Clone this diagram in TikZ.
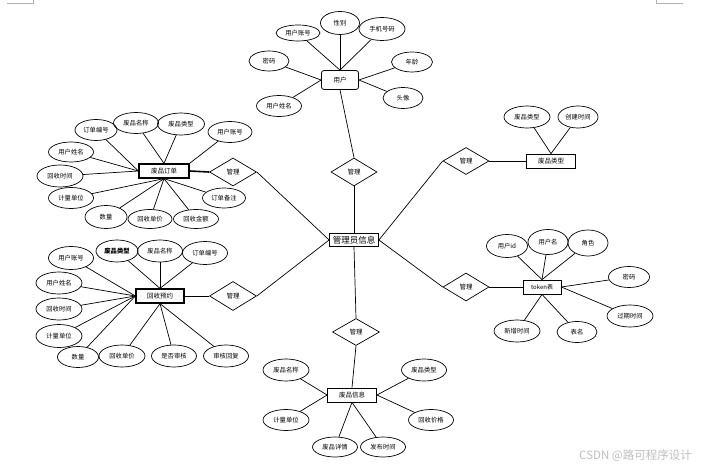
\documentclass[tikz,border=0pt]{standalone}
\usepackage{fontspec}
\newfontfamily\cjk{Noto Sans CJK SC}
\usetikzlibrary{shapes.geometric}
\begin{document}
\begin{tikzpicture}[x=1pt,y=-1pt,
  attr/.style={ellipse, draw, line width=0.7pt, inner sep=0pt, minimum width=45pt, minimum height=21pt, font=\cjk\fontsize{6.3}{7}\selectfont},
  ent/.style={rectangle, draw, line width=0.8pt, inner sep=0pt, minimum width=49pt, minimum height=14pt, font=\cjk\fontsize{6.5}{7}\selectfont},
  thickent/.style={ent, line width=1.3pt},
  rel/.style={diamond, draw, line width=0.7pt, inner sep=0pt, minimum width=47pt, minimum height=28pt, font=\cjk\fontsize{6.5}{7}\selectfont},
  link/.style={line width=0.7pt},
  cornermark/.style={draw=gray!60, line width=0.6pt},
  wm/.style={font=\cjk\fontsize{11.5}{12}\selectfont, text=gray!50}
]
\useasboundingbox (0,0) rectangle (704,470);
\fill[white] (0,0) rectangle (704,470);

% corner marks
\coordinate (tl1) at (7,3); \coordinate (tl2) at (33,3); \coordinate (tl3) at (33,0);
\draw[cornermark] (tl1) -- (tl2) -- (tl3);
\coordinate (tr1) at (656,0); \coordinate (tr2) at (656,3); \coordinate (tr3) at (683,3);
\draw[cornermark] (tr1) -- (tr2) -- (tr3);

% central entity
\node[ent, minimum width=49pt, minimum height=13pt, font=\cjk\fontsize{8.5}{9}\selectfont] (admin) at (354,240) {管理员信息};

% ---------- user ----------
\node[ent, rounded corners=2.5pt, minimum width=37pt, minimum height=19pt] (user) at (340,80) {用户};
\node[attr, minimum width=44pt, minimum height=16pt] (u1) at (298,33) {用户账号};
\node[attr, minimum width=39pt, minimum height=23pt] (u2) at (340,23) {性别};
\node[attr, minimum width=46pt, minimum height=23pt] (u3) at (382,29) {手机号码};
\node[attr, minimum width=40pt, minimum height=20pt] (u4) at (269,61) {密码};
\node[attr, minimum width=41pt, minimum height=20pt] (u5) at (412,62) {年龄};
\node[attr, minimum width=45pt, minimum height=21pt] (u6) at (279,106) {用户姓名};
\node[attr, minimum width=40pt, minimum height=21pt] (u7) at (403,98) {头像};
\foreach \a in {u1,u2,u3} \draw[link] (\a) -- (user.north);
\foreach \a in {u4,u6} \draw[link] (\a) -- (user.west);
\foreach \a in {u5,u7} \draw[link] (\a) -- (user.east);
\node[rel, minimum width=46pt] (d1) at (354,172) {管理};
\draw[link] (user.south) -- (d1.north);
\draw[link] (d1.south) -- (admin.north);

% ---------- waste order ----------
\node[thickent, minimum width=50pt] (order) at (164,171) {废品订单};
\node[attr, minimum width=42pt] (o1) at (96,130) {订单编号};
\node[attr] (o2) at (136,123) {废品名称};
\node[attr, minimum width=47pt, minimum height=22pt] (o3) at (181,124) {废品类型};
\node[attr, minimum width=44pt] (o4) at (230,132) {用户账号};
\node[attr, minimum height=20pt] (o5) at (71,152) {用户姓名};
\node[attr, minimum width=46pt, minimum height=22pt] (o6) at (60,176) {回收时间};
\node[attr] (o7) at (71,198) {计量单位};
\node[attr, minimum width=42pt, minimum height=23pt] (o8) at (106,217) {数量};
\node[attr, minimum width=44pt, minimum height=19pt] (o9) at (150,219) {回收单价};
\node[attr, minimum height=19pt] (o10) at (196,219) {回收金额};
\node[attr, minimum width=43pt, minimum height=20pt] (o11) at (224,198) {订单备注};
\foreach \a in {o1,o5,o6} \draw[link] (\a) -- (order.west);
\foreach \a in {o2,o3} \draw[link] (\a) -- (order.north);
\draw[link] (o4) -- (order.north east);
\foreach \a in {o7,o8,o9,o10,o11} \draw[link] (\a) -- (order.south);
\node[rel] (d2) at (233,172) {管理};
\draw[line width=1.6pt] (order.east) -- (d2.west);
\draw[link] (d2.east) -- (admin.west);

% ---------- waste type ----------
\node[ent] (wtype) at (551,161) {废品类型};
\node[attr, minimum width=46pt, minimum height=22pt] (t1) at (527,117) {废品类型};
\node[attr, minimum width=40pt, minimum height=22pt] (t2) at (578,117) {创建时间};
\foreach \a in {t1,t2} \draw[link] (\a) -- (wtype.north);
\node[rel, minimum width=46pt, minimum height=27pt] (d3) at (466,161) {管理};
\draw[link] (d3.east) -- (wtype.west);
\draw[link] (admin.east) -- (d3.west);

% ---------- token ----------
\node[ent, minimum width=38pt, font=\cjk\fontsize{6}{7}\selectfont] (token) at (542,287) {token表};
\node[attr, minimum width=41pt, minimum height=23pt] (k1) at (507,246) {用户id};
\node[attr, minimum width=40pt, minimum height=25pt] (k2) at (548,242) {用户名};
\node[attr, minimum width=40pt, minimum height=26pt] (k3) at (588,243) {角色};
\node[attr, minimum width=41pt, minimum height=21pt] (k4) at (629,277) {密码};
\node[attr, minimum width=46pt, minimum height=22pt] (k5) at (630,316) {过期时间};
\node[attr, minimum width=40pt, minimum height=21pt] (k6) at (577,332) {表名};
\node[attr, minimum width=46pt, minimum height=22pt] (k7) at (517,331) {新增时间};
\foreach \a in {k1,k2,k3} \draw[link] (\a) -- (token.north);
\foreach \a in {k4,k5} \draw[link] (\a) -- (token.east);
\foreach \a in {k6,k7} \draw[link] (\a) -- (token.south);
\node[rel, minimum width=46pt, minimum height=28pt] (d4) at (466,287) {管理};
\draw[link] (d4.east) -- (token.west);
\draw[link] (admin.east) -- (d4.west);

% ---------- waste info ----------
\node[ent] (info) at (352,395) {废品信息};
\node[attr, minimum width=46pt, minimum height=22pt] (i1) at (286,370) {废品名称};
\node[attr, minimum height=22pt] (i2) at (424,370) {废品类型};
\node[attr, minimum width=46pt] (i3) at (286,420) {计量单位};
\node[attr] (i4) at (431,420) {回收价格};
\node[attr, minimum height=20pt] (i5) at (335,447) {废品详情};
\node[attr, minimum height=20pt] (i6) at (383,447) {发布时间};
\foreach \a in {i1,i3} \draw[link] (\a) -- (info.west);
\foreach \a in {i2,i4} \draw[link] (\a) -- (info.east);
\foreach \a in {i5,i6} \draw[link] (\a) -- (info.south);
\node[rel, minimum height=27pt] (d5) at (356,332) {管理};
\draw[link] (admin.south) -- (d5.north);
\draw[link] (d5.south) -- (info.north);

% ---------- recycle booking ----------
\node[thickent, minimum width=48pt] (book) at (160,296) {回收预约};
\node[attr, minimum height=23pt] (b1) at (71,258) {用户账号};
\node[attr, minimum width=42pt, minimum height=22pt, font=\cjk\bfseries\fontsize{6.3}{7}\selectfont] (b2) at (117,251) {废品类型};
\node[attr, minimum height=22pt] (b3) at (160,251) {废品名称};
\node[attr, minimum height=23pt] (b4) at (205,253) {订单编号};
\node[attr, minimum width=46pt, minimum height=22pt] (b5) at (59,283) {用户姓名};
\node[attr, minimum width=46pt, minimum height=22pt] (b6) at (59,309) {回收时间};
\node[attr, minimum width=46pt, minimum height=23pt] (b7) at (59,336) {计量单位};
\node[attr, minimum width=41pt] (b8) at (78,357) {数量};
\node[attr, minimum width=46pt, minimum height=22pt] (b9) at (122,356) {回收单价};
\node[attr, minimum height=22pt] (b10) at (174,356) {是否审核};
\node[attr, minimum height=22pt] (b11) at (226,356) {审核回复};
\foreach \a in {b1,b5,b6,b7,b8} \draw[link] (\a) -- (book.west);
\foreach \a in {b2,b3,b4} \draw[link] (\a) -- (book.north);
\foreach \a in {b9,b10,b11} \draw[link] (\a) -- (book.south);
\node[rel, minimum height=29pt] (d6) at (233,296) {管理};
\draw[link] (book.east) -- (d6.west);
\draw[link] (d6.east) -- (admin.west);

% watermark
\node[wm, anchor=east, inner sep=0pt] (wmark) at (692,456) {CSDN @路可程序设计};
\end{tikzpicture}
\end{document}
